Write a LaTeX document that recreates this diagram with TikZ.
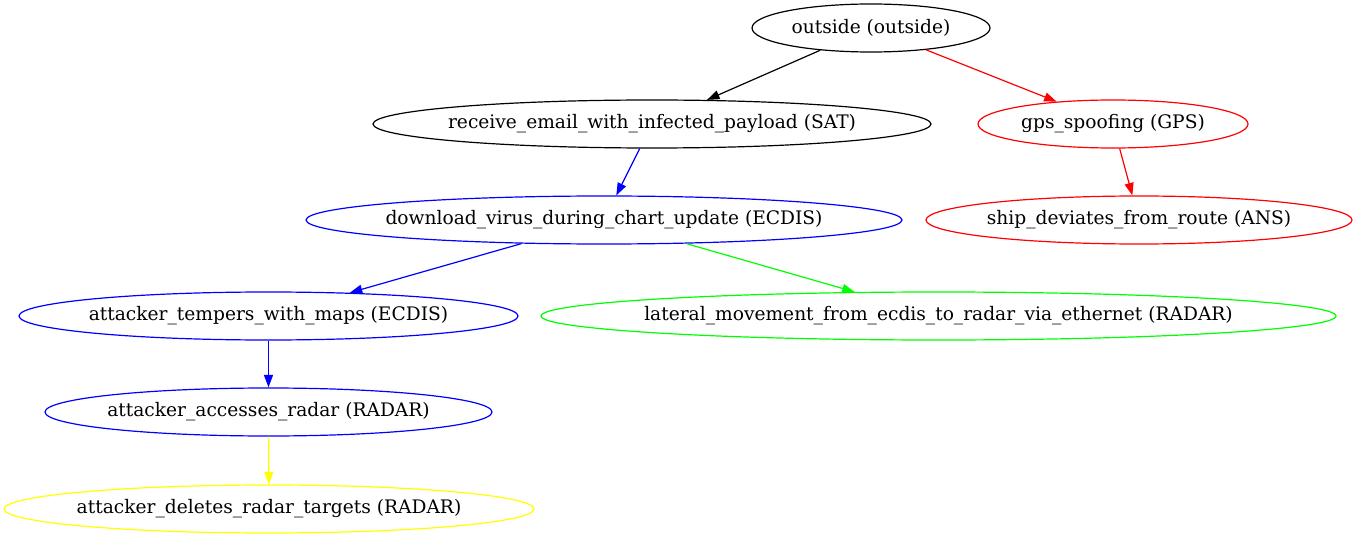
\documentclass[tikz,border=0pt]{standalone}
\usepackage{fontspec}
\setmainfont{DejaVu Serif}
\usetikzlibrary{shapes.geometric,arrows.meta}
\definecolor{gvgreen}{RGB}{0,255,0}
\definecolor{gvyellow}{RGB}{255,255,0}
% zero-width label so the ellipse keeps its given size
\newcommand{\gvtext}[1]{\makebox[0pt]{#1}}
\begin{document}
\begin{tikzpicture}[x=1bp,y=-1bp,
  state/.style={ellipse,draw,line width=1.2bp,inner sep=0pt,minimum height=48bp,
    text=black,font=\fontsize{18.7}{22}\selectfont},
  link/.style={line width=1.2bp,-{Triangle[length=12.5bp,width=9bp]}}]
\useasboundingbox (0,0) rectangle (1357,539);
\node[state,minimum width=238bp] (out) at (871,28) {\gvtext{outside (outside)}};
\node[state,minimum width=558bp] (mail) at (652,124) {\gvtext{receive\_email\_with\_infected\_payload (SAT)}};
\node[state,draw=red,minimum width=270bp] (gps) at (1113,124) {\gvtext{gps\_spoofing (GPS)}};
\node[state,draw=blue,minimum width=596bp] (dl) at (604,220) {\gvtext{download\_virus\_during\_chart\_update (ECDIS)}};
\node[state,draw=red,minimum width=426bp] (ship) at (1139,220) {\gvtext{ship\_deviates\_from\_route (ANS)}};
\node[state,draw=blue,minimum width=499bp] (maps) at (268.5,316) {\gvtext{attacker\_tempers\_with\_maps (ECDIS)}};
\node[state,draw=gvgreen,minimum width=795bp] (lat) at (938.5,316) {\gvtext{lateral\_movement\_from\_ecdis\_to\_radar\_via\_ethernet (RADAR)}};
\node[state,draw=blue,minimum width=447bp] (acc) at (268.5,412) {\gvtext{attacker\_accesses\_radar (RADAR)}};
\node[state,draw=gvyellow,minimum width=530bp] (del) at (269,509) {\gvtext{attacker\_deletes\_radar\_targets (RADAR)}};
\draw[link] (out) -- (mail);
\draw[link,red] (out) -- (gps);
\draw[link,blue] (mail) -- (dl);
\draw[link,red] (gps) -- (ship);
\draw[link,blue] (dl) -- (maps);
\draw[link,gvgreen] (dl) -- (lat);
\draw[link,blue] (maps) -- (acc);
\draw[link,gvyellow] (acc) -- (del);
\end{tikzpicture}
\end{document}
